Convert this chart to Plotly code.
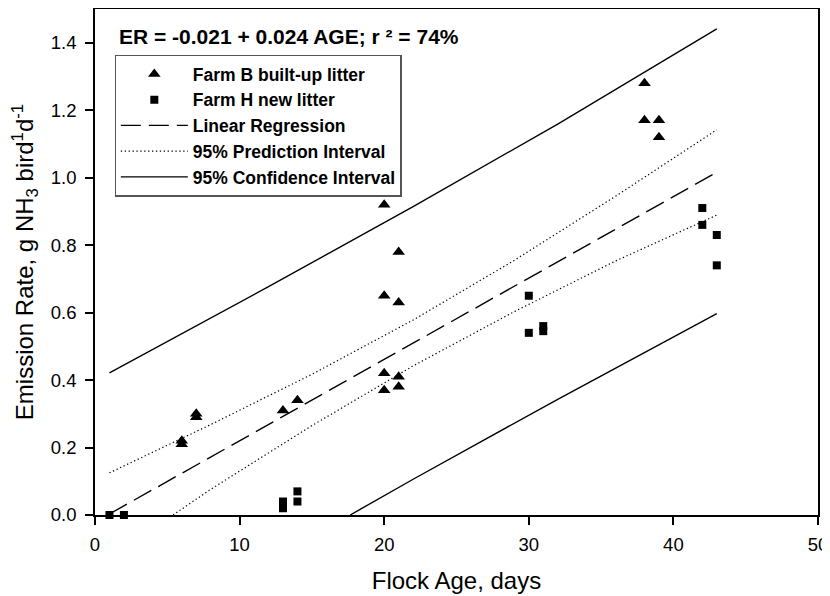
import plotly.graph_objects as go

# ---- data ----
farm_b_age = [6, 6, 7, 7, 13, 14, 20, 20, 20, 20, 21, 21, 21, 21, 38, 38, 39, 39]
farm_b_er = [0.22, 0.21, 0.30, 0.29, 0.31, 0.34, 0.92, 0.65, 0.42, 0.37,
             0.78, 0.63, 0.41, 0.38, 1.28, 1.17, 1.17, 1.12]

farm_h_age = [1, 2, 13, 13, 14, 14, 30, 30, 31, 31, 42, 42, 43, 43]
farm_h_er = [0.0, 0.0, 0.04, 0.02, 0.07, 0.04, 0.65, 0.54, 0.56, 0.545,
             0.91, 0.86, 0.83, 0.74]

reg_age = [1, 43]
reg_er = [0.003, 1.016]

# dotted band (legend: 95% Prediction Interval)
pi_up_age = [1, 8, 15, 22, 29, 36, 43]
pi_up_er = [0.125, 0.268, 0.417, 0.578, 0.755, 0.945, 1.142]
pi_lo_age = [5.4, 8, 15, 22, 29, 36, 43]
pi_lo_er = [0.0, 0.076, 0.265, 0.442, 0.603, 0.753, 0.889]

# solid band (legend: 95% Confidence Interval)
ci_up_age = [1, 12, 22, 32, 43]
ci_up_er = [0.421, 0.677, 0.914, 1.159, 1.441]
ci_lo_age = [17.65, 22, 32, 43]
ci_lo_er = [0.0, 0.106, 0.343, 0.597]

x_ticks = [0, 10, 20, 30, 40, 50]
y_ticks = [0.0, 0.2, 0.4, 0.6, 0.8, 1.0, 1.2, 1.4]

FONT = "Liberation Sans, Arial, sans-serif"

fig = go.Figure()

fig.add_trace(go.Scatter(
    x=farm_b_age, y=farm_b_er, mode="markers", name="Farm B built-up litter",
    marker=dict(symbol="triangle-up", size=11, color="black"), cliponaxis=False))
fig.add_trace(go.Scatter(
    x=farm_h_age, y=farm_h_er, mode="markers", name="Farm H new litter",
    marker=dict(symbol="square", size=8, color="black"), cliponaxis=False))
fig.add_trace(go.Scatter(
    x=reg_age, y=reg_er, mode="lines", name="Linear Regression",
    line=dict(color="black", width=1.4, dash="20px,8px")))
fig.add_trace(go.Scatter(
    x=pi_up_age, y=pi_up_er, mode="lines", name="95% Prediction Interval",
    legendgroup="pi", line=dict(color="black", width=1.2, dash="1.3px,2.6px")))
fig.add_trace(go.Scatter(
    x=pi_lo_age, y=pi_lo_er, mode="lines", showlegend=False,
    legendgroup="pi", line=dict(color="black", width=1.2, dash="1.3px,2.6px")))
fig.add_trace(go.Scatter(
    x=ci_up_age, y=ci_up_er, mode="lines", name="95% Confidence Interval",
    legendgroup="ci", line=dict(color="black", width=1.4)))
fig.add_trace(go.Scatter(
    x=ci_lo_age, y=ci_lo_er, mode="lines", showlegend=False,
    legendgroup="ci", line=dict(color="black", width=1.4)))

fig.add_annotation(
    text="<b>ER = -0.021 + 0.024 AGE; r ² = 74%</b>",
    xref="paper", yref="paper", x=0.031, y=0.946,
    xanchor="left", yanchor="middle", showarrow=False,
    font=dict(family=FONT, size=21, color="black"))

axis_common = dict(
    showline=True, linecolor="black", linewidth=1.5, mirror=True,
    ticks="outside", ticklen=8, tickwidth=1.5, tickcolor="black",
    showgrid=False, zeroline=False, automargin=False,
    tickfont=dict(family=FONT, size=18.5, color="black"),
)

# The page body adds an 8px offset, so the figure is sized 8px smaller.
fig.update_layout(
    width=822, height=588,
    margin=dict(l=87, r=12, t=1, b=81),
    paper_bgcolor="white", plot_bgcolor="white",
    font=dict(family=FONT, color="black"),
    xaxis=dict(range=[0, 50], tickvals=x_ticks, ticklabelstandoff=4,
               title=dict(text="Flock Age, days", font=dict(family=FONT, size=24), standoff=18),
               **axis_common),
    yaxis=dict(range=[0, 1.5], tickvals=y_ticks, tickformat=".1f", ticklabelstandoff=5,
               title=dict(text="Emission Rate, g NH<sub>3</sub> bird<sup>1</sup>d<sup>-1</sup>",
                          font=dict(family=FONT, size=24), standoff=14),
               **axis_common),
    legend=dict(
        x=0.027, y=0.9096, xanchor="left", yanchor="top",
        bgcolor="white", bordercolor="#555555", borderwidth=1.3,
        font=dict(family=FONT, size=17.5, color="black", weight="bold"),
        itemwidth=67, tracegroupgap=0,
    ),
)

fig.write_html("out.html")
